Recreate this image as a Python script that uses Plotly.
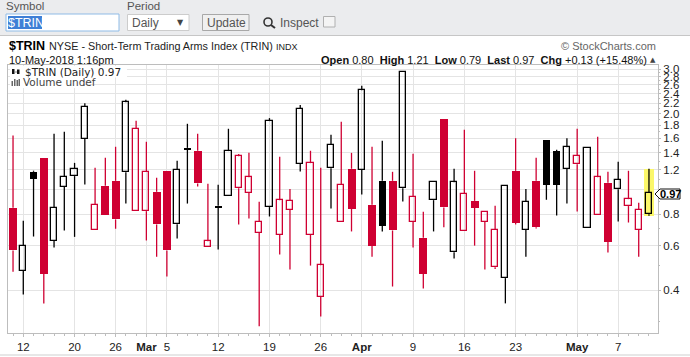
import plotly.graph_objects as go

# Trading days, Feb 9 - May 10 2018
dates = ["02-09","02-12","02-13","02-14","02-15","02-16","02-20","02-21","02-22","02-23",
         "02-26","02-27","02-28","03-01","03-02","03-05","03-06","03-07","03-08","03-09",
         "03-12","03-13","03-14","03-15","03-16","03-19","03-20","03-21","03-22","03-23",
         "03-26","03-27","03-28","03-29","04-02","04-03","04-04","04-05","04-06","04-09",
         "04-10","04-11","04-12","04-13","04-16","04-17","04-18","04-19","04-20","04-23",
         "04-24","04-25","04-26","04-27","04-30","05-01","05-02","05-03","05-04","05-07",
         "05-08","05-09","05-10"]
opens = [0.848,0.478,1.178,1.338,0.628,1.027,1.133,1.587,0.693,1.037,
         1.085,1.173,0.823,0.823,0.982,1.189,0.731,1.465,1.427,0.593,
         0.865,0.944,1.015,0.970,0.674,0.854,0.662,0.831,1.265,0.662,
         0.376,1.218,0.745,1.211,1.199,0.872,1.085,1.085,1.015,0.745,
         0.646,0.910,1.909,0.566,0.686,0.904,0.745,0.494,0.447,1.189,
         0.693,1.085,1.577,1.423,1.208,1.263,0.705,0.794,1.066,1.005,
         0.862,0.693,0.80]
highs = [1.64,0.754,1.19,1.338,1.666,1.697,1.278,2.20,1.222,1.338,
         1.48,2.27,1.875,1.549,1.116,1.189,1.302,1.825,1.666,1.056,
         1.047,1.744,1.385,1.40,0.896,1.922,1.351,1.006,2.164,1.427,
         1.222,1.65,1.858,1.40,2.58,1.48,1.562,1.178,2.92,1.388,
         0.819,1.072,1.909,1.211,1.727,1.189,0.816,0.864,1.034,1.60,
         1.008,1.338,1.577,1.44,1.60,1.744,1.462,1.62,1.178,1.29,
         1.189,0.889,1.21]
lows = [0.474,0.385,0.653,0.355,0.591,0.69,0.651,1.049,0.693,0.796,
        0.701,0.882,0.823,0.63,0.543,0.454,0.641,0.882,1.03,0.593,
        0.58,0.944,0.729,0.77,0.288,0.784,0.554,0.484,1.181,0.501,
        0.315,0.843,0.745,0.684,0.958,0.543,0.684,0.414,0.899,0.591,
        0.407,0.684,0.71,0.535,0.686,0.601,0.484,0.486,0.355,0.729,
        0.543,0.702,0.913,0.791,0.882,0.82,0.705,0.794,0.565,0.749,
        0.742,0.543,0.79]
closes = [0.575,0.60,1.105,0.466,0.848,1.126,1.208,2.136,0.87,0.796,
          0.763,2.22,1.739,1.176,0.729,0.575,1.199,1.44,1.059,0.626,
          0.853,1.423,1.359,1.122,0.745,1.87,0.91,0.902,2.087,1.275,
          0.503,1.503,1.044,0.843,2.48,0.601,0.722,0.69,2.92,0.936,
          0.466,1.072,0.851,1.072,0.962,0.848,0.816,0.693,1.034,0.742,
          0.896,0.71,1.049,1.049,1.475,1.363,1.462,1.122,0.624,1.093,
          0.918,0.831,0.97]

x_tick_days = ["02-12","02-20","02-26","03-01","03-05","03-12","03-19","03-26",
               "04-02","04-09","04-16","04-23","05-01","05-07"]
x_tick_text = ["12","20","26","<b>Mar</b>","5","12","19","26",
               "<b>Apr</b>","9","16","23","<b>May</b>","7"]
y_ticks = [0.4,0.6,0.8,1.0,1.2,1.4,1.6,1.8,2.0,2.2,2.4,2.6,2.8,3.0]
y_tick_text = ["0.4","0.6","0.8","","1.2","1.4","1.6","1.8","2.0","2.2","2.4","2.6","2.8","3.0"]
y_minor = [0.3,0.5,0.7,0.9,1.1,1.3,1.5,1.7,1.9,2.1,2.3,2.5,2.7,2.9]

RED = "#cf0032"
BLACK = "#000000"
GRID = "#e4e4e4"
AXIS = "#bdbdbd"
FONT = "Liberation Sans"

L, R, T, B = 8, 658, 65, 333
idx = list(range(len(dates)))


def px(x):
    return (x - L) / (R - L)


def py(y):
    return (B - y) / (B - T)


fig = go.Figure()

# highlight behind the latest bar
fig.add_trace(go.Bar(x=[idx[-1]], y=[highs[-1] - lows[-1]], base=[lows[-1]], width=0.98,
                     marker=dict(color="#fbf76a", line=dict(width=0)), hoverinfo="skip"))

groups = {}
for i in idx:
    prev = closes[i - 1] if i else 1.0
    col = BLACK if closes[i] >= prev else RED
    hollow = closes[i] > opens[i]
    groups.setdefault((col, hollow), []).append(i)

for (col, hollow), ids in groups.items():
    wx, wy = [], []
    for i in ids:
        top, bot = max(opens[i], closes[i]), min(opens[i], closes[i])
        if highs[i] > top:
            wx += [i, i, None]
            wy += [highs[i], top, None]
        if lows[i] < bot:
            wx += [i, i, None]
            wy += [bot, lows[i], None]
    fig.add_trace(go.Scatter(x=wx, y=wy, mode="lines", line=dict(color=col, width=1.3),
                             hoverinfo="skip"))
    fig.add_trace(go.Bar(
        x=ids,
        y=[abs(closes[i] - opens[i]) for i in ids],
        base=[min(opens[i], closes[i]) for i in ids],
        width=0.6 if hollow else (0.66 if col == BLACK else 0.78),
        marker=dict(color="rgba(0,0,0,0)" if hollow else col,
                    line=dict(color=col, width=1.3 if hollow else 0)),
    ))

shapes = []
anns = []


def rect(x0, y0, x1, y1, fill, line=None, lw=1):
    shapes.append(dict(type="rect", xref="paper", yref="paper",
                       x0=px(x0), x1=px(x1), y0=py(y0), y1=py(y1),
                       fillcolor=fill, line=dict(color=line or fill, width=lw if line else 0),
                       layer="above"))


def seg(x0, y0, x1, y1, color, lw=1):
    shapes.append(dict(type="line", xref="paper", yref="paper",
                       x0=px(x0), x1=px(x1), y0=py(y0), y1=py(y1),
                       line=dict(color=color, width=lw), layer="above"))


def txt(x, y, text, size=11, color="#000000", anchor="left", family=FONT, bg=None):
    anns.append(dict(xref="paper", yref="paper", x=px(x), y=py(y), text=text, showarrow=False,
                     xanchor=anchor, yanchor="middle", borderpad=0,
                     font=dict(size=size, color=color, family=family),
                     bgcolor=bg or "rgba(0,0,0,0)"))


# toolbar
rect(0, 0, 690, 35, "#ebecee")
seg(0, 35.5, 690, 35.5, "#c6c6c6", 1)
txt(5, 6.5, "Symbol", 11.5, "#555555")
txt(126, 6.5, "Period", 11.5, "#555555")
rect(6, 14, 119, 31, "#ffffff", "#8fbbe6", 1)
rect(8, 16, 42, 29, "#3e7fd6")
txt(7, 23, "$TRIN", 12.5, "#ffffff")
rect(127.5, 14.5, 189, 30.5, "#ffffff", "#cccccc", 1)
txt(131, 23, "Daily", 12, "#555555")
txt(180, 22, "▼", 8, "#444444", "center", "DejaVu Sans")
rect(202.5, 14.5, 249, 30.5, "#f0f0f0", "#a8a8a8", 1)
txt(226, 23, "Update", 12, "#555555", "center")
shapes.append(dict(type="circle", xref="paper", yref="paper",
                   x0=px(264), x1=px(272), y0=py(18), y1=py(26),
                   line=dict(color="#333333", width=1.6), fillcolor="rgba(0,0,0,0)", layer="above"))
seg(271, 25, 275, 28, "#333333", 2)
txt(279, 23, "Inspect", 12, "#555555")
rect(323.5, 16.5, 335, 27, "#f4f4f4", "#b0b0b0", 1)

# heading
txt(8, 46, "<b>$TRIN</b>", 12.5)
txt(48, 46, "NYSE - Short-Term Trading Arms Index (TRIN)", 10.8, "#222222")
txt(275, 47, "INDX", 9, "#222222")
txt(657, 46, "© StockCharts.com", 11, "#666666", "right")
txt(8, 60, "10-May-2018 1:16pm", 11, "#111111")
txt(648, 60,
    "<b>Open</b> 0.80  <b>High</b> 1.21  <b>Low</b> 0.79  <b>Last</b> 0.97  <b>Chg</b> +0.13 (+15.48%)",
    11, "#111111", "right")
txt(657, 60, "▲", 7, "#444444", "right", "DejaVu Sans")

# legend inside the plot
rect(10, 66, 127, 77.5, "#ffffff")
rect(10, 77.5, 84, 88, "#ffffff")
txt(24, 72, "$TRIN (Daily) 0.97", 10.5, "#222222", family="DejaVu Sans")
txt(22, 82, "Volume undef", 10.5, "#444444", family="DejaVu Sans")
rect(12, 69, 14.5, 74, "#111111")
rect(17, 69.5, 19.5, 74, "#111111")
seg(15.5, 72, 16.5, 72, "#111111", 1)
for bx, bt in [(11.5, 81), (14, 79), (16.5, 80), (18.5, 79)]:
    rect(bx, bt, bx + 1.5, 86, "#666666")

# last value tag
shapes.append(dict(type="path", xref="paper", yref="paper",
                   path="M {} {} L {} {} L {} {} L {} {} L {} {} Z".format(
                       px(655), py(194), px(660), py(189), px(680), py(189),
                       px(680), py(199), px(660), py(199)),
                   fillcolor="#ffffff", line=dict(color="#111111", width=1), layer="above"))
txt(670, 194, "<b>0.97</b>", 11, "#000000", "center")

# bottom frame
seg(0, 355, 690, 355, "#cfcfcf", 1)

tickvals = [dates.index(d) for d in x_tick_days]
fig.update_layout(
    width=690, height=357, margin=dict(l=L, r=690 - R, t=T, b=357 - B, pad=0),
    paper_bgcolor="#ffffff", plot_bgcolor="#ffffff",
    showlegend=False, barmode="overlay", bargap=0,
    font=dict(family=FONT, size=11.5, color="#222222"),
    shapes=shapes, annotations=anns,
    xaxis=dict(automargin=False, range=[-0.49, 62.88], tickmode="array", tickvals=tickvals,
               ticktext=x_tick_text,
               showgrid=True, gridcolor=GRID, gridwidth=1, ticks="outside", ticklen=3,
               tickcolor=AXIS, showline=True, linecolor=AXIS, linewidth=1, mirror=True,
               zeroline=False, tickangle=0, tickfont=dict(size=11.5, color="#222222"),
               minor=dict(tickmode="array", tickvals=idx, ticks="outside", ticklen=2,
                          tickcolor=AXIS, showgrid=False)),
    yaxis=dict(automargin=False, type="log", range=[-0.567, 0.494], side="right", tickmode="array",
               tickvals=y_ticks, ticktext=y_tick_text, showgrid=True, gridcolor=GRID, gridwidth=1,
               ticks="outside", ticklen=2, tickcolor=AXIS, showline=True, linecolor=AXIS,
               linewidth=1, mirror=True, zeroline=False,
               tickfont=dict(size=11.5, color="#222222"),
               minor=dict(tickmode="array", tickvals=y_minor, ticks="outside", ticklen=1,
                          tickcolor=AXIS, showgrid=False)),
)

fig.write_html("out.html", config={"displayModeBar": False},
               post_script="document.body.style.margin='0';document.body.style.overflow='hidden';")
